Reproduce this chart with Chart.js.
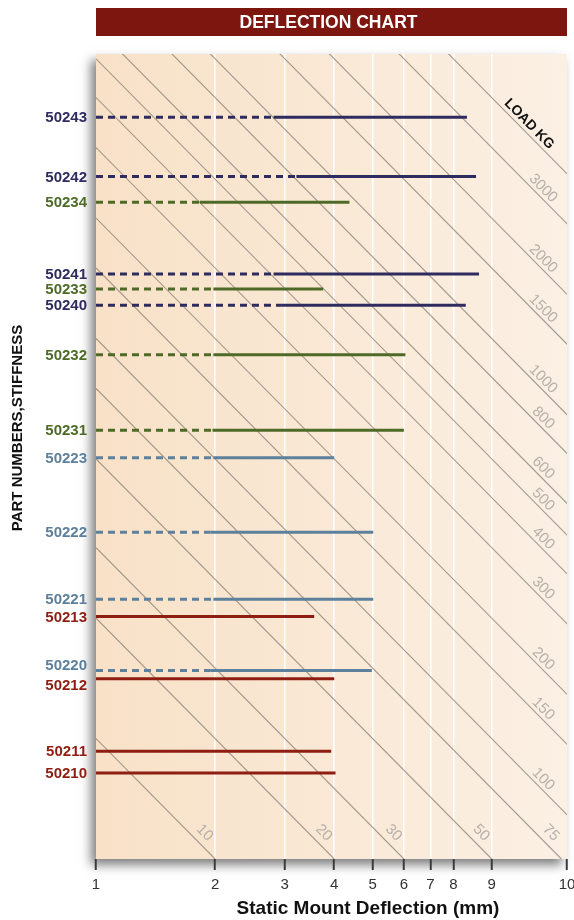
<!DOCTYPE html>
<html>
<head>
<meta charset="utf-8">
<script src="https://cdn.jsdelivr.net/npm/chart.js@4.4.1/dist/chart.umd.min.js"></script>
<style>
  html, body { margin: 0; padding: 0; background: #fff; }
  #wrap { position: relative; width: 574px; height: 920px; }
</style>
</head>
<body>
<div id="wrap"><canvas id="chart" width="574" height="920"></canvas></div>
<script>
// part lines: stiffness (y), dashed range 1 -> start, solid start -> end (mm)
const partNames     = ['50243', '50242', '50234', '50241', '50233', '50240', '50232', '50231', '50223', '50222', '50221', '50213', '50220', '50212', '50211', '50210'];
const partStiffness = [357, 254, 219, 145, 133, 121, 91, 59, 50.3, 32.8, 22.3, 20.2, 14.8, 14.1, 9.3, 8.2];
const partStart     = [2.81, 3.21, 1.83, 2.81, 1.98, 2.95, 1.98, 1.97, 1.98, 1.95, 1.98, 1, 1.95, 1, 1, 1];
const partEnd       = [8.66, 9.13, 4.37, 9.29, 3.75, 8.6, 6.05, 6.0, 4.0, 5.02, 5.02, 3.56, 4.98, 4.0, 3.93, 4.03];
const partSeries    = ['navy', 'navy', 'green', 'navy', 'green', 'navy', 'green', 'green', 'steel', 'steel', 'steel', 'red', 'steel', 'red', 'red', 'red'];

// constant-load diagonals (kg)
const loads      = [10, 20, 30, 50, 75, 100, 150, 200, 300, 400, 500, 600, 800, 1000, 1500, 2000, 3000, 4000];
const loadLabels = ['10', '20', '30', '50', '75', '100', '150', '200', '300', '400', '500', '600', '800', '1000', '1500', '2000', '3000', 'LOAD KG'];

// x axis ticks as printed on the chart
const xTicks      = [1, 2, 3, 4, 5, 6, 7, 8, 10, 15.5];
const xTickLabels = ['1', '2', '3', '4', '5', '6', '7', '8', '9', '10'];

const X_MIN = 1, X_MAX = 15.5, Y_MIN = 5, Y_MAX = 514;
const colors = { navy: '#2e2b5f', green: '#4d6b27', steel: '#5d809c', red: '#8e1d12' };
const FONT = "'Liberation Sans', Arial, sans-serif";

const datasets = [];
loads.forEach((L) => {
  datasets.push({
    data: [{ x: 1, y: L }, { x: L / Y_MIN, y: Y_MIN }],
    borderColor: 'rgba(105,96,90,0.6)', borderWidth: 1.1, pointRadius: 0, order: 2,
  });
});
partNames.forEach((name, i) => {
  const c = colors[partSeries[i]];
  if (partStart[i] > 1) {
    datasets.push({
      data: [{ x: 1, y: partStiffness[i] }, { x: partStart[i], y: partStiffness[i] }],
      borderColor: c, borderWidth: 3, borderDash: [7, 5], pointRadius: 0, order: 1,
    });
  }
  datasets.push({
    data: [{ x: partStart[i], y: partStiffness[i] }, { x: partEnd[i], y: partStiffness[i] }],
    borderColor: c, borderWidth: 3, pointRadius: 0, order: 1,
  });
});

const backdrop = {
  id: 'backdrop',
  beforeDraw(chart) {
    const { ctx, chartArea: a } = chart;
    ctx.save();
    ctx.shadowColor = 'rgba(0,0,0,0.5)';
    ctx.shadowBlur = 10;
    ctx.shadowOffsetX = -5;
    ctx.shadowOffsetY = 6;
    const g = ctx.createLinearGradient(a.left, 0, a.right, 0);
    g.addColorStop(0, '#f8e1c7');
    g.addColorStop(1, '#fbf0e4');
    ctx.fillStyle = g;
    ctx.fillRect(a.left, a.top, a.right - a.left, a.bottom - a.top);
    ctx.restore();

    // banner
    ctx.save();
    ctx.fillStyle = '#7c160f';
    ctx.fillRect(a.left, 8, a.right - a.left, 28);
    ctx.fillStyle = '#fff';
    ctx.font = `bold 17.5px ${FONT}`;
    ctx.textAlign = 'center';
    ctx.textBaseline = 'middle';
    ctx.fillText('DEFLECTION CHART', (a.left + a.right) / 2 - 3, 23);
    ctx.restore();
  },
  afterDatasetsDraw(chart) {
    const { ctx, scales: { x, y } } = chart;
    ctx.save();
    ctx.textAlign = 'center';
    ctx.textBaseline = 'middle';
    loads.forEach((L, i) => {
      const toBottom = L / Y_MIN <= X_MAX;
      const ex = toBottom ? L / Y_MIN : X_MAX;
      const ey = toBottom ? Y_MIN : L / X_MAX;
      const px = x.getPixelForValue(ex), py = y.getPixelForValue(ey);
      const sx = x.getPixelForValue(1), sy = y.getPixelForValue(L);
      const len = Math.hypot(px - sx, py - sy);
      const ux = (px - sx) / len, uy = (py - sy) / len;
      const nx = uy, ny = -ux;
      const isTitle = loadLabels[i] === 'LOAD KG';
      const along = isTitle ? -62 : (toBottom ? -26 : -42);
      const perp = isTitle ? 8 : (toBottom ? 11 : 8);
      ctx.save();
      ctx.translate(px + along * ux + perp * nx, py + along * uy + perp * ny);
      ctx.rotate(Math.atan2(uy, ux));
      ctx.font = isTitle ? `bold 14px ${FONT}` : `15px ${FONT}`;
      ctx.fillStyle = isTitle ? '#111' : '#b7b0aa';
      ctx.fillText(loadLabels[i], 0, 0);
      ctx.restore();
    });
    ctx.restore();
  },
  afterDraw(chart) {
    const { ctx, scales: { y } } = chart;
    ctx.save();
    ctx.fillStyle = '#111';
    ctx.font = `bold 19px ${FONT}`;
    ctx.textAlign = 'center';
    ctx.textBaseline = 'middle';
    ctx.fillText('Static Mount Deflection (mm)', 368, 909);

    ctx.save();
    ctx.translate(18, 428);
    ctx.rotate(-Math.PI / 2);
    ctx.font = `bold 15px ${FONT}`;
    ctx.fillText('PART NUMBERS,STIFFNESS', 0, 0);
    ctx.restore();

    // part number labels, pushed apart where two lines sit too close
    const ys = partStiffness.map((k) => y.getPixelForValue(k));
    const pos = ys.slice();
    for (let i = 0; i < pos.length - 1; i++) {
      const gap = pos[i + 1] - pos[i];
      if (gap < 12) {
        const push = (20 - gap) / 2;
        pos[i] -= push;
        pos[i + 1] += push;
      }
    }
    ctx.font = `bold 15px ${FONT}`;
    ctx.textAlign = 'right';
    partNames.forEach((name, i) => {
      ctx.fillStyle = colors[partSeries[i]];
      ctx.fillText(name, 87, pos[i] + 1);
    });
    ctx.restore();
  },
};

new Chart(document.getElementById('chart'), {
  type: 'line',
  data: { datasets },
  plugins: [backdrop],
  options: {
    responsive: false,
    animation: false,
    events: [],
    layout: { padding: { top: 54, right: 7, left: 0, bottom: 0 } },
    plugins: { legend: { display: false }, tooltip: { enabled: false } },
    scales: {
      x: {
        type: 'logarithmic', min: X_MIN, max: X_MAX,
        afterBuildTicks: (s) => { s.ticks = xTicks.map((v) => ({ value: v })); },
        afterFit: (s) => { s.height = 61; s.paddingLeft = 0; s.paddingRight = 0; },
        border: { display: false },
        grid: {
          color: (c) => (c.index === 0 || c.index === xTicks.length - 1 ? 'rgba(0,0,0,0)' : '#ffffff'),
          lineWidth: 1.5, tickColor: '#3a3a3a', tickWidth: 2, tickLength: 11,
        },
        ticks: {
          autoSkip: false, maxRotation: 0, padding: 6,
          color: '#333', font: { family: FONT, size: 15 },
          callback: (v, i) => xTickLabels[i],
        },
      },
      y: {
        type: 'logarithmic', min: Y_MIN, max: Y_MAX,
        afterBuildTicks: (s) => { s.ticks = partStiffness.map((v) => ({ value: v })); },
        afterFit: (s) => { s.width = 96; s.paddingTop = 0; s.paddingBottom = 0; },
        border: { display: false },
        grid: { display: false, drawTicks: false },
        ticks: { display: false },
      },
    },
  },
});
</script>
</body>
</html>
